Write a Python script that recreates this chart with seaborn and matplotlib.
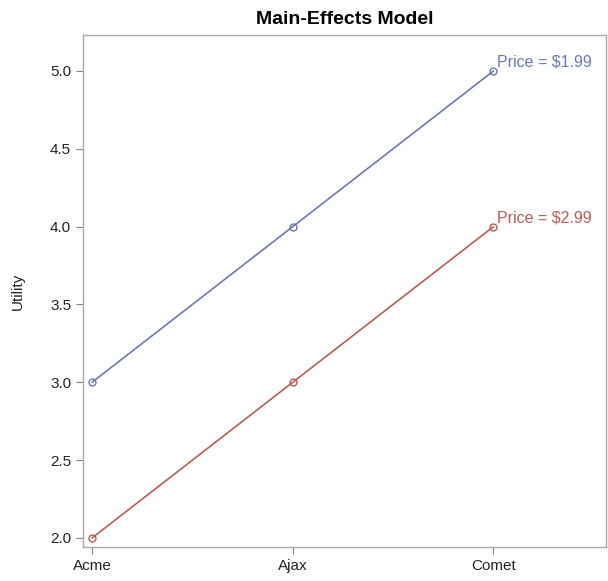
import matplotlib
matplotlib.use("Agg")
import matplotlib.pyplot as plt
import seaborn as sns
import pandas as pd

# Data
brands = ["Acme", "Ajax", "Comet"]
utility_199 = [3.0, 4.0, 5.0]
utility_299 = [2.0, 3.0, 4.0]
price_labels = ["Price = $1.99", "Price = $2.99"]
colors = ["#6A79B3", "#B95D52"]

df = pd.DataFrame({
    "brand": brands * 2,
    "pos": list(range(len(brands))) * 2,
    "utility": utility_199 + utility_299,
    "price": [price_labels[0]] * 3 + [price_labels[1]] * 3,
})

sns.set_theme(style="white")
plt.rcParams["font.family"] = ["Liberation Sans", "DejaVu Sans"]

fig = plt.figure(figsize=(6.08, 5.81), dpi=100)
ax = fig.add_axes([0.1365, 0.0585, 0.86, 0.8813])

sns.lineplot(data=df, x="pos", y="utility", hue="price", palette=colors,
             marker="o", markersize=5, markerfacecolor="none",
             markeredgewidth=1.0, linewidth=1.2, legend=False, ax=ax)
for line, c in zip(ax.lines, colors):
    line.set_markeredgecolor(c)

# End labels
for vals, lab, c in zip([utility_199, utility_299], price_labels, colors):
    ax.text(len(brands) - 1 + 0.02, vals[-1] + 0.01, lab, color=c,
            fontsize=11.5, ha="left", va="bottom")

ax.set_xlim(-0.045, 2.56)
ax.set_ylim(1.942, 5.231)
ax.set_xticks(range(len(brands)))
ax.set_xticklabels(brands)
ax.set_yticks([2.0, 2.5, 3.0, 3.5, 4.0, 4.5, 5.0])
ax.set_yticklabels([f"{v:.1f}" for v in [2.0, 2.5, 3.0, 3.5, 4.0, 4.5, 5.0]])
ax.tick_params(axis="both", labelsize=11, length=5, width=0.8,
               color="#808080", colors="#222222", left=True, bottom=True)
ax.set_xlabel("")
ax.set_ylabel("Utility", fontsize=11, color="#222222", labelpad=18)
ax.set_title("Main-Effects Model", fontsize=14, fontweight="bold",
             color="black", pad=8)
for s in ax.spines.values():
    s.set_color("#A8A8A8")
    s.set_linewidth(1.0)

fig.savefig("out.png", dpi=100)
